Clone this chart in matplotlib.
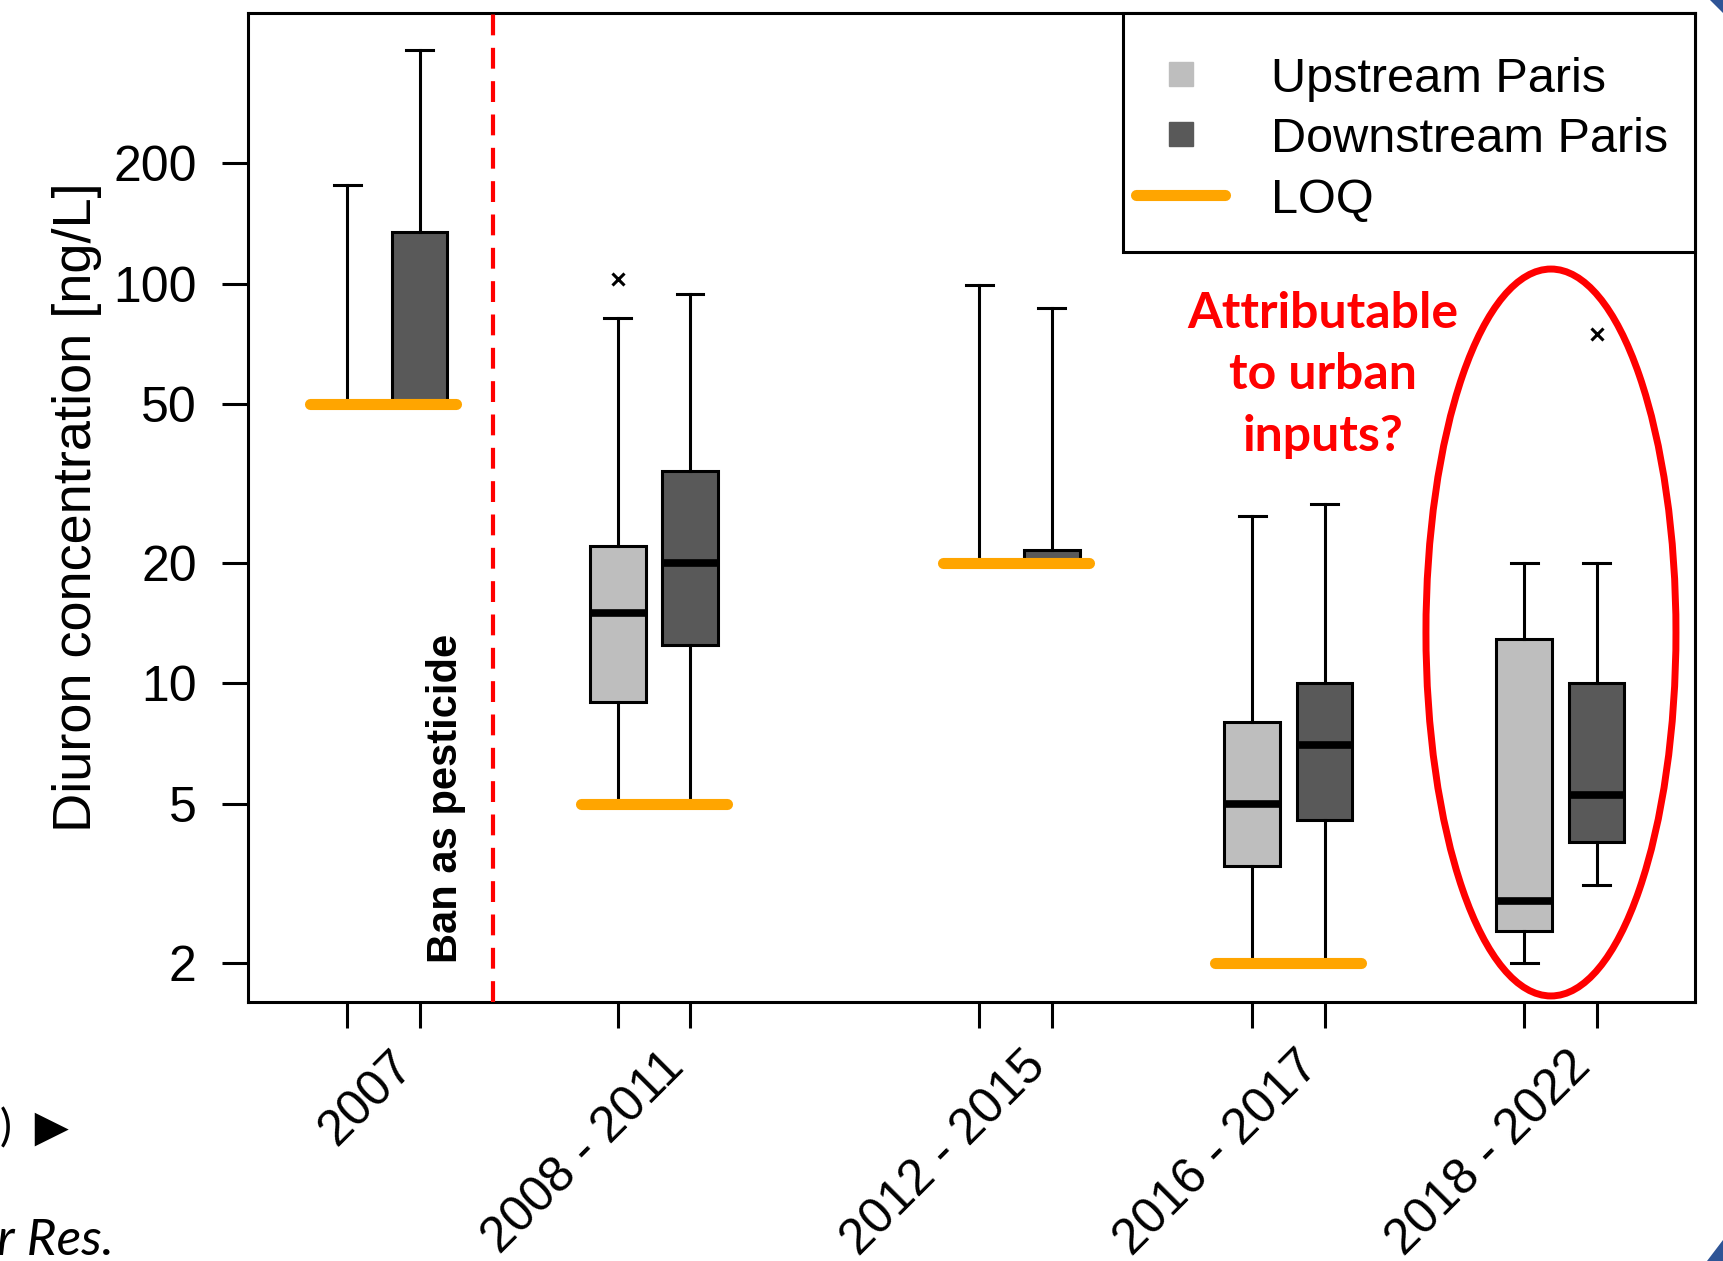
import matplotlib
matplotlib.use("Agg")
import matplotlib.pyplot as plt
import matplotlib.transforms as mtransforms
from matplotlib.lines import Line2D
from matplotlib.patches import Ellipse, Rectangle, Polygon

plt.rcParams["font.family"] = ["Liberation Sans", "DejaVu Sans"]

# periods on the x axis
periods = ["2007", "2008 - 2011", "2012 - 2015", "2016 - 2017", "2018 - 2022"]

# diuron box summaries, ng/L
up_low = [50, 5, 20, 2, 2]
up_q1 = [50, 9.0, 20, 3.5, 2.4]
up_med = [50, 15, 20, 5.0, 2.85]
up_q3 = [50, 22.1, 20, 8.0, 12.9]
up_high = [177, 82, 99, 26.2, 20]
up_out = [[], [103], [], [], []]

down_low = [50, 5, 20, 2, 3.13]
down_q1 = [50, 12.5, 20, 4.55, 4.0]
down_med = [50, 20, 20, 7.0, 5.25]
down_q3 = [135, 34, 21.5, 10, 10]
down_high = [385, 94, 87, 28.1, 20]
down_out = [[], [], [], [], [75]]

# limit of quantification per period (none drawn for the last one)
loq = [50, 5, 20, 2, None]

yticks = [2, 5, 10, 20, 50, 100, 200]

# layout
centers = [1.87, 5.61, 10.61, 14.38, 18.14]
OFF = 0.5
BOX_W = 0.77
UP_COLOR = "#bebebe"
DOWN_COLOR = "#595959"
LOQ_COLOR = "#ffa500"
FS = 36
LW = 2.2


def summaries(lo, q1, med, q3, hi, out):
    return [dict(whislo=a, q1=b, med=c, q3=d, whishi=e, fliers=f)
            for a, b, c, d, e, f in zip(lo, q1, med, q3, hi, out)]


fig = plt.figure(figsize=(17.23, 12.61), dpi=100)
ax = fig.add_axes([0.144, 0.2054, 0.8397, 0.7843])

box_kw = dict(
    widths=BOX_W,
    capwidths=0.37,
    patch_artist=True,
    medianprops=dict(color="black", linewidth=5.5, solid_capstyle="butt"),
    whiskerprops=dict(color="black", linewidth=LW),
    capprops=dict(color="black", linewidth=LW),
    flierprops=dict(marker="x", markeredgecolor="black", markersize=9,
                    markeredgewidth=2.2),
)
up_pos = [c - OFF for c in centers]
down_pos = [c + OFF for c in centers]
ax.bxp(summaries(up_low, up_q1, up_med, up_q3, up_high, up_out),
       positions=up_pos,
       boxprops=dict(facecolor=UP_COLOR, edgecolor="black", linewidth=LW),
       **box_kw)
ax.bxp(summaries(down_low, down_q1, down_med, down_q3, down_high, down_out),
       positions=down_pos,
       boxprops=dict(facecolor=DOWN_COLOR, edgecolor="black", linewidth=LW),
       **box_kw)

# LOQ bars
for c, v in zip(centers, loq):
    if v is None:
        continue
    ax.plot([c - 1.01, c + 1.01], [v, v], color=LOQ_COLOR, lw=8,
            solid_capstyle="round", zorder=5)

ax.set_yscale("log")
ax.set_ylim(1.594, 476)
ax.set_xlim(0, 20)
ax.set_yticks(yticks)
ax.set_yticklabels([str(t) for t in yticks])
ax.minorticks_off()
ax.set_xticks(up_pos + down_pos)
ax.set_xticklabels([""] * (len(up_pos) + len(down_pos)))
ax.tick_params(axis="both", length=19, width=LW, labelsize=FS, color="black")
ax.tick_params(axis="y", pad=18)
for sp in ax.spines.values():
    sp.set_linewidth(LW)

ax.set_ylabel("Diuron concentration [ng/L]", fontsize=39)
ax.yaxis.set_label_coords(-0.101, 0.5)

xtrans = mtransforms.blended_transform_factory(ax.transData, ax.transAxes)
for c, lab in zip(centers, periods):
    ax.text(c + 0.32, -0.058, lab, transform=xtrans, rotation=45,
            ha="right", va="center", rotation_mode="anchor", fontsize=FS)

# ban line
ax.axvline(3.38, color="red", lw=3.0, dashes=(5, 3), zorder=3)
ax.text(2.74, 2.0, "Ban as pesticide", rotation=90, ha="center", va="bottom",
        fontsize=30, fontweight="bold")

# highlight of the last period
ax.add_patch(Ellipse((0.9005, 0.3736), 0.1728, 0.735, transform=ax.transAxes,
                     fill=False, edgecolor="red", lw=5, clip_on=False,
                     zorder=6))
ax.text(0.743, 0.634, "Attributable\nto urban\ninputs?", transform=ax.transAxes,
        ha="center", va="center", ma="center", color="red", fontsize=36,
        fontweight="bold", linespacing=1.45,
        family=["Lato", "Liberation Sans", "DejaVu Sans"])

# legend drawn by hand, like the R one
ax.add_patch(Rectangle((0.6047, 0.7583), 1 - 0.6047, 1 - 0.7583,
                       transform=ax.transAxes, facecolor="white",
                       edgecolor="black", lw=LW, zorder=7, clip_on=False))
rows = [0.9323, 0.8716, 0.8099]
labels = ["Upstream Paris", "Downstream Paris", "LOQ"]
ax.add_line(Line2D([0.6448], [rows[0] + 0.006], marker="s", markersize=17,
                   color=UP_COLOR, ls="none", transform=ax.transAxes, zorder=8))
ax.add_line(Line2D([0.6448], [rows[1] + 0.006], marker="s", markersize=17,
                   color=DOWN_COLOR, ls="none", transform=ax.transAxes, zorder=8))
ax.add_line(Line2D([0.614, 0.675], [rows[2] + 0.006] * 2, color=LOQ_COLOR,
                   lw=8, solid_capstyle="round", transform=ax.transAxes,
                   zorder=8))
for y, lab in zip(rows, labels):
    ax.text(0.707, y, lab, transform=ax.transAxes, ha="left", va="center",
            fontsize=35, zorder=9)

# bits of the slide around the figure
fig.text(0.0, 0.1047, ")  \u25b6", ha="left", va="center", fontsize=32,
         family=["Lato", "DejaVu Sans"])
fig.text(-0.002, 0.005, "r Res.", ha="left", va="baseline", fontsize=37,
         style="italic", family=["Lato", "DejaVu Sans"])
blue = "#2e5496"
fig.patches.append(Polygon([(1710 / 1723, 1), (1, 1), (1, 1 - 13 / 1261)],
                           closed=True, transform=fig.transFigure,
                           facecolor=blue, edgecolor="none"))
fig.patches.append(Polygon([(1707 / 1723, 0), (1, 0), (1, 21 / 1261)],
                           closed=True, transform=fig.transFigure,
                           facecolor=blue, edgecolor="none"))

fig.savefig("out.png", dpi=100)
